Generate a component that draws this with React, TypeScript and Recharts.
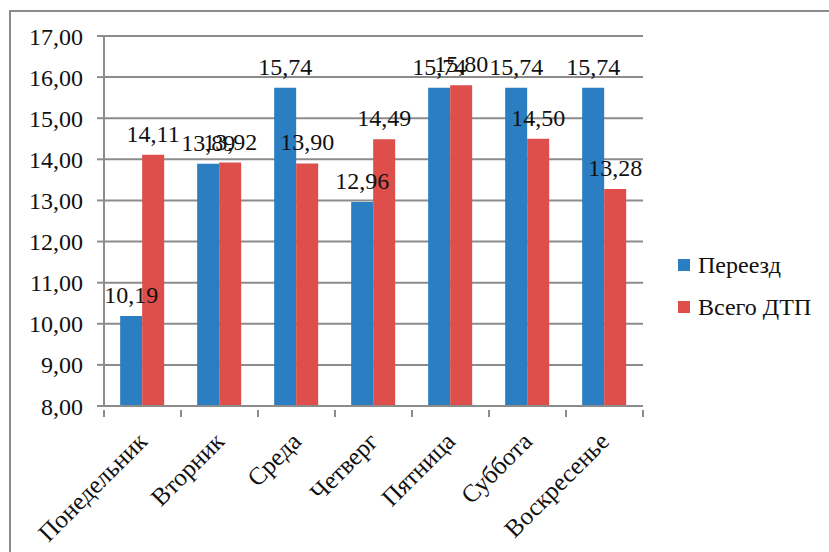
import React from 'react';
import { BarChart, Bar, XAxis, YAxis, CartesianGrid, LabelList } from 'recharts';

const days = ['Понедельник', 'Вторник', 'Среда', 'Четверг', 'Пятница', 'Суббота', 'Воскресенье'];
const crossing = [10.19, 13.89, 15.74, 12.96, 15.74, 15.74, 15.74];
const allAccidents = [14.11, 13.92, 13.90, 14.49, 15.80, 14.50, 13.28];
const seriesNames = ['Переезд', 'Всего ДТП'];
const yTicks = [8, 9, 10, 11, 12, 13, 14, 15, 16, 17];

const COLORS = ['#2A7EC1', '#DE4E4B'];
const GRID = '#8c8c8c';
const FONT = '"Times New Roman", Times, "Liberation Serif", "DejaVu Serif", "Noto Serif", serif';

const data = days.map((day, i) => ({
  day,
  crossing: crossing[i],
  all: allAccidents[i],
}));

const fmt = (v: number) => v.toFixed(2).replace('.', ',');

// category labels tilted 45°, with tick marks at the category borders
const DayTick = (props: any) => {
  const { x, y, payload, index } = props;
  const half = payload?.offset || 38.5;
  const axisY = y - 4;
  const ax = x + 6;
  const ay = axisY + 33;
  return (
    <g>
      <line x1={x - half} y1={axisY} x2={x - half} y2={axisY + 7} stroke={GRID} strokeWidth={2} />
      {index === days.length - 1 && (
        <line x1={x + half} y1={axisY} x2={x + half} y2={axisY + 7} stroke={GRID} strokeWidth={2} />
      )}
      <text
        x={ax}
        y={ay}
        textAnchor="end"
        transform={`rotate(-45, ${ax}, ${ay})`}
        style={{ fontSize: 25, fontFamily: FONT }}
        fill="#111"
      >
        {payload.value}
      </text>
    </g>
  );
};

const labelStyle = { fontSize: 24, fontFamily: FONT, fill: '#111' };

export default function App() {
  return (
    <div
      style={{
        position: 'absolute',
        left: 0,
        top: 0,
        width: 829,
        height: 552,
        overflow: 'hidden',
        background: '#fff',
        fontFamily: FONT,
      }}
    >
      <div
        style={{
          position: 'absolute',
          left: 9,
          top: 10,
          width: 1000,
          height: 1000,
          border: `2.5px solid ${GRID}`,
        }}
      />
      <div style={{ position: 'absolute', left: 0, top: 0 }}>
        <BarChart
          width={829}
          height={552}
          data={data}
          margin={{ top: 36, right: 186, left: 0, bottom: 6 }}
          barCategoryGap="21%"
          barGap={0}
          style={{ fontFamily: FONT }}
        >
          <CartesianGrid vertical={false} stroke={GRID} strokeWidth={2} />
          <XAxis
            dataKey="day"
            height={140}
            interval={0}
            tickLine={false}
            axisLine={{ stroke: GRID, strokeWidth: 2 }}
            tick={<DayTick />}
          />
          <YAxis
            width={104}
            domain={[8, 17]}
            ticks={yTicks}
            interval={0}
            tickFormatter={fmt}
            tickSize={7}
            tickMargin={14}
            tickLine={{ stroke: GRID, strokeWidth: 2 }}
            axisLine={{ stroke: GRID, strokeWidth: 2 }}
            tick={{ style: labelStyle, fill: '#111' }}
          />
          <Bar dataKey="crossing" name={seriesNames[0]} fill={COLORS[0]} isAnimationActive={false}>
            <LabelList dataKey="crossing" position="top" offset={13} formatter={(v: any) => fmt(Number(v))} style={labelStyle} />
          </Bar>
          <Bar dataKey="all" name={seriesNames[1]} fill={COLORS[1]} isAnimationActive={false}>
            <LabelList dataKey="all" position="top" offset={13} formatter={(v: any) => fmt(Number(v))} style={labelStyle} />
          </Bar>
        </BarChart>
      </div>
      {seriesNames.map((name, i) => (
        <div
          key={name}
          style={{
            position: 'absolute',
            left: 678,
            top: 251 + i * 42,
            height: 28,
            display: 'flex',
            alignItems: 'center',
            fontSize: 24,
            color: '#111',
            whiteSpace: 'nowrap',
          }}
        >
          <span style={{ width: 12, height: 12, background: COLORS[i], marginRight: 8, display: 'inline-block' }} />
          {name}
        </div>
      ))}
    </div>
  );
}
